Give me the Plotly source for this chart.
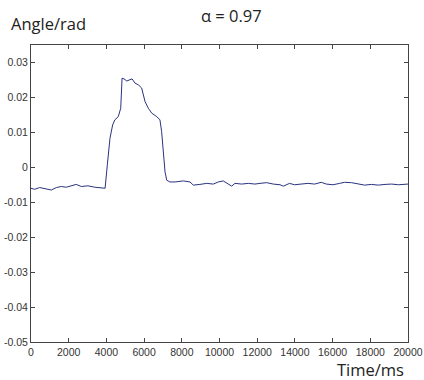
import plotly.graph_objects as go

time_ms = [0, 195, 460, 725, 1080, 1345, 1610, 1875, 2140, 2400, 2670, 3020, 3380, 3750, 3930,
           4050, 4190, 4330, 4450, 4630, 4760, 4830, 4935, 5080, 5215, 5360, 5515, 5695, 5870,
           6050, 6225, 6405, 6670, 6840, 6930, 7020, 7110, 7200, 7370, 7640, 8080, 8435, 8610,
           8960, 9320, 9670, 9935, 10200, 10470, 10645, 10820, 11175, 11530, 11880, 12150,
           12500, 12855, 13210, 13385, 13715, 13980, 14340, 14690, 15045, 15400, 15665, 16020,
           16375, 16640, 17000, 17350, 17700, 18060, 18420, 18780, 19130, 19490, 19840, 20000]
angle_rad = [-0.0060, -0.0063, -0.0058, -0.0061, -0.0065, -0.0058, -0.0055, -0.0057, -0.0053,
             -0.0049, -0.0055, -0.0053, -0.0057, -0.0058, -0.0060,
             0.0007, 0.0083, 0.0121, 0.0136, 0.0145, 0.0169, 0.0255, 0.0253, 0.0247, 0.0250,
             0.0253, 0.0241, 0.0236, 0.0227, 0.0188, 0.0169, 0.0155, 0.0145, 0.0136, 0.0102,
             0.0045, -0.0013, -0.0037, -0.0042, -0.0042, -0.0039, -0.0042, -0.0051,
             -0.0049, -0.0046, -0.0048, -0.0042, -0.0039, -0.0048, -0.0054, -0.0046, -0.0048,
             -0.0046, -0.0048, -0.0046, -0.0044, -0.0048, -0.0050, -0.0054, -0.0046, -0.0050,
             -0.0048, -0.0046, -0.0048, -0.0043, -0.0048, -0.0050, -0.0046, -0.0043, -0.0044,
             -0.0048, -0.0051, -0.0049, -0.0051, -0.0049, -0.0048, -0.0050, -0.0048, -0.0048]

x_ticks = [0, 2000, 4000, 6000, 8000, 10000, 12000, 14000, 16000, 18000, 20000]
y_ticks = [-0.05, -0.04, -0.03, -0.02, -0.01, 0, 0.01, 0.02, 0.03]
y_tick_text = ["-0.05", "-0.04", "-0.03", "-0.02", "-0.01", "0", "0.01", "0.02", "0.03"]

fig = go.Figure()
fig.add_trace(go.Scatter(x=time_ms, y=angle_rad, mode="lines",
                         line=dict(color="#2a3380", width=1), showlegend=False))

axis_common = dict(showgrid=False, zeroline=False, showline=True, linecolor="#444",
                   linewidth=1, mirror="ticks", ticks="inside", ticklen=4, automargin=False,
                   tickcolor="#444", tickfont=dict(family="Arial, Liberation Sans", size=10.5, color="#333"))

fig.update_xaxes(range=[0, 20000], tickvals=x_ticks, ticktext=[str(v) for v in x_ticks], **axis_common)
fig.update_yaxes(range=[-0.05, 0.035], tickvals=y_ticks, ticktext=y_tick_text, **axis_common)

fig.update_layout(
    width=424, height=380,
    margin=dict(l=31, r=16, t=45, b=38),
    paper_bgcolor="white", plot_bgcolor="white",
    annotations=[
        dict(text="Angle/rad", x=48, y=23, showarrow=False,
             font=dict(family="Open Sans", size=16.5, color="#222")),
        dict(text="α = 0.97", x=231, y=16, showarrow=False,
             font=dict(family="Open Sans", size=16.5, color="#222")),
        dict(text="Time/ms", x=370, y=369, showarrow=False,
             font=dict(family="Open Sans", size=16.5, color="#222")),
    ],
)

# convert pixel-placed annotations to paper coordinates
pw, ph = 424 - 31 - 16, 380 - 45 - 38
for a in fig.layout.annotations:
    px, py = a.x, a.y
    a.xref = "paper"; a.yref = "paper"
    a.x = (px - 31) / pw
    a.y = 1 - (py - 45) / ph
    a.xanchor = "center"; a.yanchor = "middle"

fig.write_html("out.html")
